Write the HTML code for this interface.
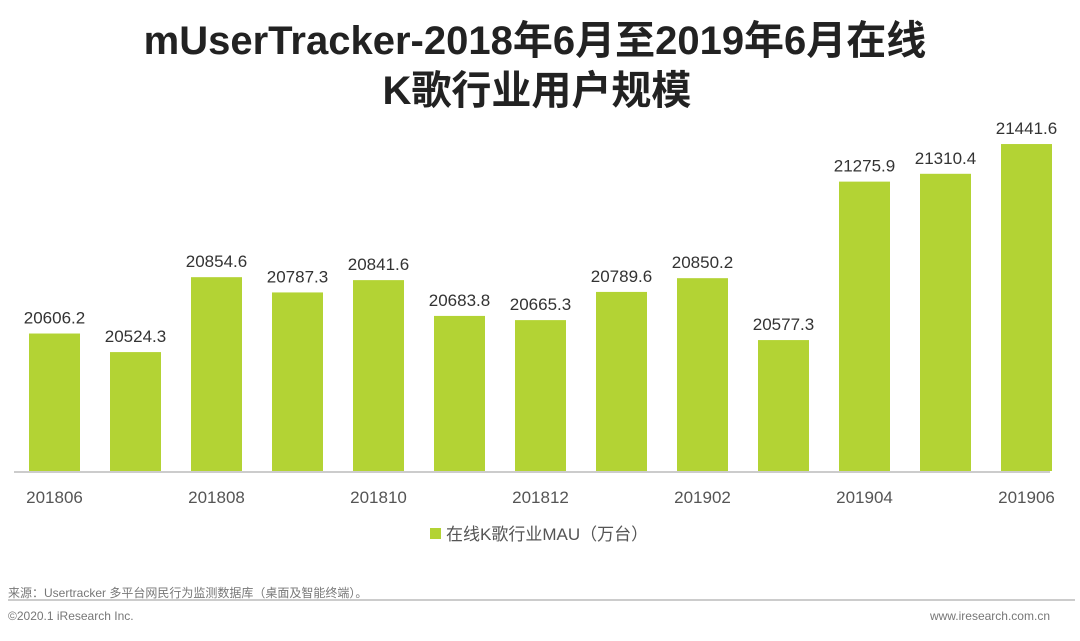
<!DOCTYPE html>
<html><head><meta charset="utf-8">
<style>
html,body{margin:0;padding:0;background:#fff;}
body{width:1080px;height:636px;overflow:hidden;}
svg text{font-family:"Liberation Sans","Noto Sans CJK SC",sans-serif;}
</style></head>
<body>
<svg id="chart" width="1080" height="636" xmlns="http://www.w3.org/2000/svg">
<text x="535" y="54" text-anchor="middle" font-size="40" font-weight="bold" fill="#222">mUserTracker-2018年6月至2019年6月在线</text>
<text x="537" y="104" text-anchor="middle" font-size="40" font-weight="bold" fill="#222">K歌行业用户规模</text>
<g id="bars"></g>
<line x1="14" y1="472" x2="1050" y2="472" stroke="#bbb" stroke-width="1.5"/>
<g id="xlabels"></g>
<rect x="430" y="528" width="11" height="11" fill="#b3d334"/>
<text x="446" y="540" font-size="17" fill="#555">在线K歌行业MAU（万台）</text>
<text x="8" y="597" font-size="12" fill="#777">来源：Usertracker 多平台网民行为监测数据库（桌面及智能终端）。</text>
<line x1="8" y1="600" x2="1075" y2="600" stroke="#999" stroke-width="1"/>
<text x="8" y="620" font-size="12" fill="#777">©2020.1 iResearch Inc.</text>
<text x="1050" y="620" text-anchor="end" font-size="12" fill="#777">www.iresearch.com.cn</text>
</svg>
<script>
const categories = ["201806","201807","201808","201809","201810","201811","201812","201901","201902","201903","201904","201905","201906"];
const values = [20606.2,20524.3,20854.6,20787.3,20841.6,20683.8,20665.3,20789.6,20850.2,20577.3,21275.9,21310.4,21441.6];
const yMin = 20000;
const ns = "http://www.w3.org/2000/svg";
const baseY = 471, pxPerUnit = 0.2268;
const x0 = 29, pitch = 81, barW = 51;
function yScale(v){ return baseY - (v - yMin) * pxPerUnit; }
function xScale(i){ return x0 + i * pitch; }
const gb = document.getElementById('bars');
const gl = document.getElementById('xlabels');
values.forEach((v,i)=>{
  const r = document.createElementNS(ns,'rect');
  
  
  r.setAttribute('x', xScale(i)); r.setAttribute('y', yScale(v));
  r.setAttribute('width', barW); r.setAttribute('height', baseY - yScale(v));
  r.setAttribute('fill', '#b3d334');
  gb.appendChild(r);
  const t = document.createElementNS(ns,'text');
  
  
  t.setAttribute('x', xScale(i) + barW/2); t.setAttribute('y', yScale(v) - 10);
  t.setAttribute('text-anchor', 'middle'); t.setAttribute('font-size', '17'); t.setAttribute('fill', '#333');
  t.textContent = v.toFixed(1);
  gb.appendChild(t);
  if (i % 2 === 0) {
    const l = document.createElementNS(ns,'text');
    
    
    l.setAttribute('x', xScale(i) + barW/2); l.setAttribute('y', 503);
    l.setAttribute('text-anchor', 'middle'); l.setAttribute('font-size', '17'); l.setAttribute('fill', '#555');
    l.textContent = categories[i];
    gl.appendChild(l);
  }
});
</script>
</body></html>
